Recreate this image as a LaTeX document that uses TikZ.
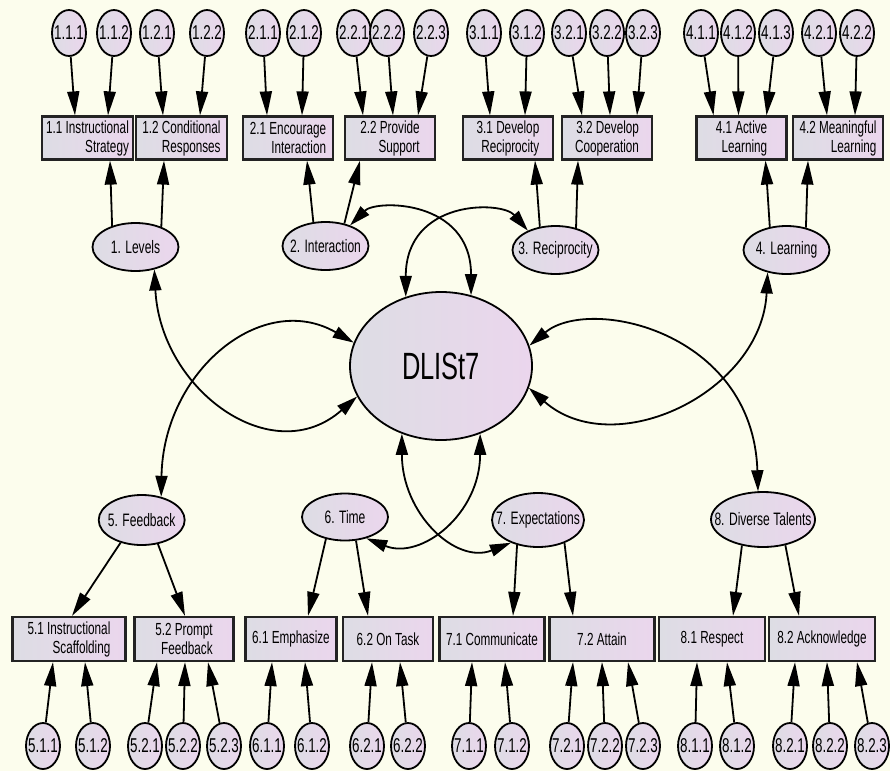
\documentclass[tikz,border=0pt]{standalone}
\usepackage{fontspec}
\setmainfont[FakeStretch=0.67]{Liberation Sans}
\usetikzlibrary{arrows.meta,shapes.geometric}
\definecolor{paper}{RGB}{252,253,237}
\definecolor{fillgray}{RGB}{221,221,228}
\definecolor{fillpink}{RGB}{235,214,237}
\definecolor{edgegray}{RGB}{35,35,35}
\tikzset{
  squeeze/.style={execute at begin node={\hbox to 0pt\bgroup\hss},
                  execute at end node={\hss\egroup}},
  obsbox/.style={draw=edgegray, line width=2.2pt, left color=fillgray, right color=fillpink,
                 align=right, minimum width=90pt, minimum height=43pt, inner sep=1pt,
                 font=\fontsize{17.5}{19}\selectfont},
  indicator/.style={ellipse, draw=black, line width=1.8pt, left color=fillgray,
                    right color=fillpink, minimum width=34pt, minimum height=46pt,
                    inner sep=0pt, squeeze, font=\fontsize{20}{20}\selectfont},
  latent/.style={indicator, minimum width=86pt, minimum height=48pt,
                 font=\fontsize{18}{18}\selectfont},
  arrow/.style={-{Triangle[length=24pt, width=12pt]}, line width=1.8pt},
  covar/.style={{Triangle[length=21pt, width=12pt]}-{Triangle[length=21pt, width=12pt]},
                line width=1.8pt}
}
\begin{document}
\begin{tikzpicture}[x=1pt, y=-1pt]
  \fill[paper] (0,0) rectangle (890,771);

  \node[latent, minimum width=182pt, minimum height=148pt,
        font=\fontsize{38}{40}\selectfont] (dlist) at (441,366) {DLISt7};

  \node[latent] (levels) at (135.5,247) {1. Levels};
  \node[latent] (interact) at (325.5,246) {2. Interaction};
  \node[latent] (recip) at (555.5,250) {3. Reciprocity};
  \node[latent] (learn) at (786.5,250) {4. Learning};
  \node[latent, minimum height=50pt] (feedb) at (141.7,520) {5. Feedback};
  \node[latent, minimum height=47pt] (time) at (345,517) {6. Time};
  \node[latent, minimum width=92pt, minimum height=54pt] (expect) at (538,520) {7. Expectations};
  \node[latent, minimum width=104pt, minimum height=55pt] (talent) at (763,519.5) {8. Diverse Talents};

  \node[obsbox, minimum width=91pt] (s11) at (87.5,138) {1.1 Instructional\\Strategy};
  \node[obsbox, minimum width=91pt] (s12) at (181.5,138) {1.2 Conditional\\Responses};
  \node[obsbox] (s21) at (288,138) {2.1 Encourage\\Interaction};
  \node[obsbox] (s22) at (390,138) {2.2 Provide\\Support};
  \node[obsbox] (s31) at (508,138) {3.1 Develop\\Reciprocity};
  \node[obsbox] (s32) at (607,138) {3.2 Develop\\Cooperation};
  \node[obsbox] (s41) at (741.5,138) {4.1 Active\\Learning};
  \node[obsbox] (s42) at (838,138) {4.2 Meaningful\\Learning};

  \node[obsbox, minimum width=113pt, minimum height=44pt] (s51) at (69,639) {5.1 Instructional\\Scaffolding};
  \node[obsbox, minimum width=99pt, minimum height=44pt] (s52) at (184,639) {5.2 Prompt\\Feedback};
  \node[obsbox, minimum width=91pt, minimum height=44pt] (s61) at (291,639) {6.1 Emphasize};
  \node[obsbox, minimum height=44pt] (s62) at (388,639) {6.2 On Task};
  \node[obsbox, minimum width=105pt, minimum height=44pt] (s71) at (492,639) {7.1 Communicate};
  \node[obsbox, minimum width=105pt, minimum height=44pt] (s72) at (602,639) {7.2 Attain};
  \node[obsbox, minimum width=106pt, minimum height=44pt] (s81) at (712,639) {8.1 Respect};
  \node[obsbox, minimum width=106pt, minimum height=44pt] (s82) at (822,639) {8.2 Acknowledge};

  \node[indicator] (i111) at (69,33) {1.1.1}; \draw[arrow] (i111) -- ([xshift=-12.5pt]s11.north);
  \node[indicator] (i112) at (114,33) {1.1.2}; \draw[arrow] (i112) -- ([xshift=20.5pt]s11.north);
  \node[indicator] (i121) at (157,33) {1.2.1}; \draw[arrow] (i121) -- ([xshift=-18.5pt]s12.north);
  \node[indicator] (i122) at (207,33) {1.2.2}; \draw[arrow] (i122) -- ([xshift=18.5pt]s12.north);
  \node[indicator] (i211) at (263,33) {2.1.1}; \draw[arrow] (i211) -- ([xshift=-21pt]s21.north);
  \node[indicator] (i212) at (304,33) {2.1.2}; \draw[arrow] (i212) -- ([xshift=14pt]s21.north);
  \node[indicator] (i221) at (354,33) {2.2.1}; \draw[arrow] (i221) -- ([xshift=-27pt]s22.north);
  \node[indicator] (i222) at (387,33) {2.2.2}; \draw[arrow] (i222) -- ([xshift=3pt]s22.north);
  \node[indicator] (i223) at (431,33) {2.2.3}; \draw[arrow] (i223) -- ([xshift=28pt]s22.north);
  \node[indicator] (i311) at (484,33) {3.1.1}; \draw[arrow] (i311) -- ([xshift=-18pt]s31.north);
  \node[indicator] (i312) at (527,33) {3.1.2}; \draw[arrow] (i312) -- ([xshift=17pt]s31.north);
  \node[indicator] (i321) at (569,33) {3.2.1}; \draw[arrow] (i321) -- ([xshift=-25pt]s32.north);
  \node[indicator] (i322) at (607,33) {3.2.2}; \draw[arrow] (i322) -- ([xshift=3pt]s32.north);
  \node[indicator] (i323) at (643,33) {3.2.3}; \draw[arrow] (i323) -- ([xshift=30pt]s32.north);
  \node[indicator] (i411) at (701,33) {4.1.1}; \draw[arrow] (i411) -- ([xshift=-28pt]s41.north);
  \node[indicator] (i412) at (738,33) {4.1.2}; \draw[arrow] (i412) -- ([xshift=-3pt]s41.north);
  \node[indicator] (i413) at (776,33) {4.1.3}; \draw[arrow] (i413) -- ([xshift=25pt]s41.north);
  \node[indicator] (i421) at (819,33) {4.2.1}; \draw[arrow] (i421) -- ([xshift=-11pt]s42.north);
  \node[indicator] (i422) at (857,33) {4.2.2}; \draw[arrow] (i422) -- ([xshift=17pt]s42.north);

  \node[indicator] (i511) at (43,746) {5.1.1}; \draw[arrow] (i511) -- ([xshift=-16pt]s51.south);
  \node[indicator] (i512) at (93,746) {5.1.2}; \draw[arrow] (i512) -- ([xshift=16pt]s51.south);
  \node[indicator] (i521) at (145,746) {5.2.1}; \draw[arrow] (i521) -- ([xshift=-27pt]s52.south);
  \node[indicator] (i522) at (183,746) {5.2.2}; \draw[arrow] (i522) -- ([xshift=1pt]s52.south);
  \node[indicator] (i523) at (224,746) {5.2.3}; \draw[arrow] (i523) -- ([xshift=24pt]s52.south);
  \node[indicator] (i611) at (267,746) {6.1.1}; \draw[arrow] (i611) -- ([xshift=-19pt]s61.south);
  \node[indicator] (i612) at (312,746) {6.1.2}; \draw[arrow] (i612) -- ([xshift=14pt]s61.south);
  \node[indicator] (i621) at (367,746) {6.2.1}; \draw[arrow] (i621) -- ([xshift=-16pt]s62.south);
  \node[indicator] (i622) at (408,746) {6.2.2}; \draw[arrow] (i622) -- ([xshift=12pt]s62.south);
  \node[indicator] (i711) at (469,746) {7.1.1}; \draw[arrow] (i711) -- ([xshift=-20pt]s71.south);
  \node[indicator] (i712) at (512,746) {7.1.2}; \draw[arrow] (i712) -- ([xshift=13pt]s71.south);
  \node[indicator] (i721) at (567,746) {7.2.1}; \draw[arrow] (i721) -- ([xshift=-29pt]s72.south);
  \node[indicator] (i722) at (605,746) {7.2.2}; \draw[arrow] (i722) -- ([xshift=0pt]s72.south);
  \node[indicator] (i723) at (643,746) {7.2.3}; \draw[arrow] (i723) -- ([xshift=26pt]s72.south);
  \node[indicator] (i811) at (695,746) {8.1.1}; \draw[arrow] (i811) -- ([xshift=-15pt]s81.south);
  \node[indicator] (i812) at (737,746) {8.1.2}; \draw[arrow] (i812) -- ([xshift=15pt]s81.south);
  \node[indicator] (i821) at (790,746) {8.2.1}; \draw[arrow] (i821) -- ([xshift=-27pt]s82.south);
  \node[indicator] (i822) at (830,746) {8.2.2}; \draw[arrow] (i822) -- ([xshift=5pt]s82.south);
  \node[indicator] (i823) at (872,746) {8.2.3}; \draw[arrow] (i823) -- ([xshift=35pt]s82.south);

  \draw[arrow] (levels.138.6) -- ([xshift=22.5pt]s11.south);
  \draw[arrow] (levels.38) -- ([xshift=-17.5pt]s12.south);
  \draw[arrow] (interact.117.5) -- ([xshift=19pt]s21.south);
  \draw[arrow] (interact.50.4) -- ([xshift=-30pt]s22.south);
  \draw[arrow] (recip.124.7) -- ([xshift=27pt]s31.south);
  \draw[arrow] (recip.47.7) -- ([xshift=-29pt]s32.south);
  \draw[arrow] (learn.126.6) -- ([xshift=24pt]s41.south);
  \draw[arrow] (learn.49.5) -- ([xshift=-30pt]s42.south);
  \draw[arrow] (feedb.227.7) -- ([xshift=3pt]s51.north);
  \draw[arrow] (feedb.304.6) -- ([xshift=1pt]s52.north);
  \draw[arrow] (time.229.8) -- ([xshift=17pt]s61.north);
  \draw[arrow] (time.295.9) -- ([xshift=-20pt]s62.north);
  \draw[arrow] (expect.230.5) -- ([xshift=21pt]s71.north);
  \draw[arrow] (expect.319.4) -- ([xshift=-29pt]s72.north);
  \draw[arrow] (talent.231.2) -- ([xshift=21pt]s81.north);
  \draw[arrow] (talent.311.9) -- ([xshift=-23pt]s82.north);

  \draw[covar] (levels.310) .. controls +(6,120) and +(-85,75) .. (dlist.200);
  \draw[covar] (feedb.50) .. controls +(2,-125) and +(-92,-53) .. (dlist.165);
  \draw[covar] (interact.40) .. controls +(26,-26) and +(0,-96) .. (dlist.67.5);
  \draw[covar] (recip.145) .. controls +(-26,-30) and +(0,-98) .. (dlist.117.9);
  \draw[covar] (learn.230) .. controls +(-6,120) and +(85,75) .. (dlist.346);
  \draw[covar] (dlist.13.3) .. controls +(60,-50) and +(-5,-160) .. (talent.100);
  \draw[covar] (dlist.300) .. controls +(0,80) and +(55,22) .. (time.315);
  \draw[covar] (dlist.240) .. controls +(0,80) and +(-55,22) .. (expect.220);
\end{tikzpicture}
\end{document}
